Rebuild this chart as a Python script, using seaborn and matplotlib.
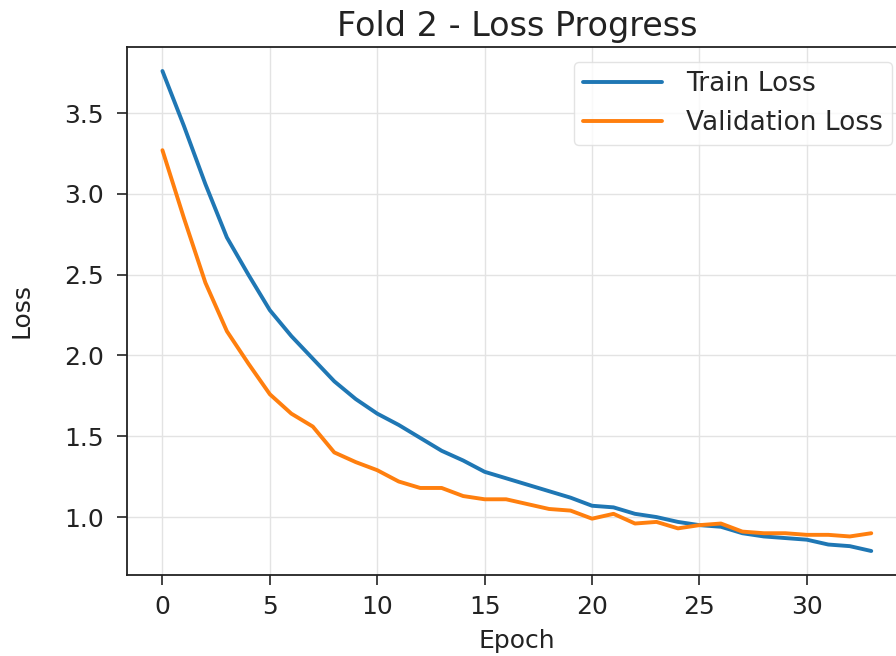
import matplotlib
matplotlib.use("Agg")
import matplotlib.pyplot as plt
import seaborn as sns
import pandas as pd

epochs = list(range(34))
train_loss = [3.76, 3.42, 3.06, 2.73, 2.50, 2.28, 2.12, 1.98, 1.84, 1.73,
              1.64, 1.57, 1.49, 1.41, 1.35, 1.28, 1.24, 1.20, 1.16, 1.12,
              1.07, 1.06, 1.02, 1.00, 0.97, 0.95, 0.94, 0.90, 0.88, 0.87,
              0.86, 0.83, 0.82, 0.79]
val_loss = [3.27, 2.85, 2.45, 2.15, 1.95, 1.76, 1.64, 1.56, 1.40, 1.34,
            1.29, 1.22, 1.18, 1.18, 1.13, 1.11, 1.11, 1.08, 1.05, 1.04,
            0.99, 1.02, 0.96, 0.97, 0.93, 0.95, 0.96, 0.91, 0.90, 0.90,
            0.89, 0.89, 0.88, 0.90]
series_names = ["Train Loss", "Validation Loss"]
x_ticks = [0, 5, 10, 15, 20, 25, 30]
y_ticks = [1.0, 1.5, 2.0, 2.5, 3.0, 3.5]

df = pd.DataFrame({
    "Epoch": epochs * 2,
    "Loss": train_loss + val_loss,
    "Series": [series_names[0]] * len(epochs) + [series_names[1]] * len(epochs),
})

sns.set_style("ticks")
plt.rcParams['font.family'] = ['DejaVu Sans']

fig = plt.figure(figsize=(8.96, 6.56), dpi=100)
ax = fig.add_axes([127/896, 1 - 575/656, (906.7 - 127)/896, (575 - 47)/656])

sns.lineplot(data=df, x="Epoch", y="Loss", hue="Series",
             palette=["#1f77b4", "#ff7f0e"], linewidth=2.8, ax=ax)

ax.set_title("Fold 2 - Loss Progress", fontsize=24, color="#222222", pad=8)
ax.set_xlabel("Epoch", fontsize=18, color="#222222", labelpad=7)
ax.set_ylabel("Loss", fontsize=18, color="#222222", labelpad=22)
ax.set_xticks(x_ticks)
ax.set_yticks(y_ticks)
ax.tick_params(axis="both", labelsize=18, length=7.5, width=1.2,
               pad=7, colors="#222222")
ax.tick_params(axis="y", pad=9)
ax.grid(True, color="#e3e3e3", linewidth=1.0)
for s in ax.spines.values():
    s.set_visible(True)
    s.set_linewidth(1.3)
    s.set_color("#222222")

leg = ax.legend(loc="upper right", fontsize=19, frameon=True,
                borderaxespad=0.55, handlelength=3.0, handletextpad=0.9,
                borderpad=0.35)
leg.get_frame().set_edgecolor("#dddddd")
for line in leg.get_lines():
    line.set_linewidth(2.8)

fig.savefig("out.png", dpi=100)
